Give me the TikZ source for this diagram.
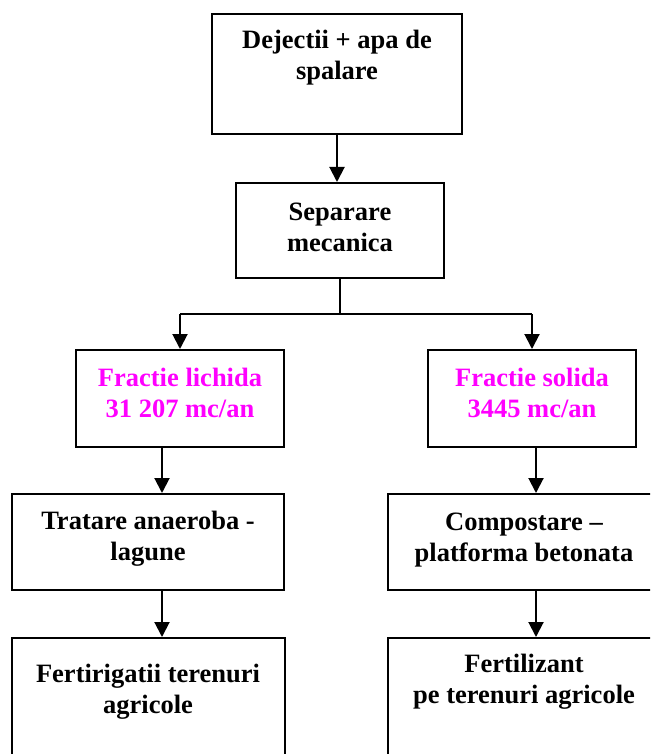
\documentclass[tikz,border=0pt]{standalone}
\usepackage{fontspec}
\setmainfont{Liberation Serif}
\usetikzlibrary{arrows.meta}
\definecolor{fraccol}{RGB}{255,0,255}
\begin{document}
\begin{tikzpicture}[x=0.5pt,y=-0.5pt,
  box/.style={draw,line width=1pt,rectangle,inner sep=0pt},
  lbl/.style={inner sep=0pt,anchor=base,align=center,
    font=\fontsize{13.25}{15.5}\selectfont\bfseries},
  frac/.style={lbl,text=fraccol},
  flow/.style={line width=1pt,-{Triangle[width=7.5pt,length=7.5pt]}},
  link/.style={line width=1pt}]
\useasboundingbox (0,0) rectangle (650,754);
\clip (0,0) rectangle (650,754);

% boxes
\node[box,minimum width=125pt,minimum height=60pt]   (b1) at (337,74) {};
\node[box,minimum width=104pt,minimum height=47.5pt] (b2) at (340,230.5) {};
\node[box,minimum width=104pt,minimum height=48.5pt] (b3) at (180,398.5) {};
\node[box,minimum width=104pt,minimum height=48.5pt] (b4) at (532,398.5) {};
\node[box,minimum width=136pt,minimum height=48pt]   (b5) at (148,542) {};
\node[box,minimum width=136pt,minimum height=48pt]   (b6) at (524,542) {};
\node[box,minimum width=136.5pt,minimum height=71pt] (b7) at (148.5,709) {};
\node[box,minimum width=136pt,minimum height=71pt]   (b8) at (524,709) {};

% labels (placed by the baseline of their last line)
\node[lbl]  (t1) at (337,80)  {Dejectii + apa de\\spalare};
\node[lbl]  (t2) at (340,251) {Separare\\mecanica};
\node[frac] (t3) at (180,417) {Fractie lichida\\31 207 mc/an};
\node[frac] (t4) at (532,417) {Fractie solida\\3445 mc/an};
\node[lbl]  (t5) at (148,560) {Tratare anaeroba -\\lagune};
\node[lbl]  (t6) at (524,561) {Compostare –\\platforma betonata};
\node[lbl]  (t7) at (148,713) {Fertirigatii terenuri\\agricole};
\node[lbl]  (t8) at (524,703) {Fertilizant\\pe terenuri agricole};

% connector guides
\coordinate (split) at (340,314);
\coordinate (left) at (162,0);
\coordinate (right) at (536,0);

% connectors
\draw[flow] (b1.south) -- (b1.south |- b2.north);
\draw[link] (b2.south) -- (split);
\draw[link] (split -| b3.north) -- (split -| b4.north);
\draw[flow] (split -| b3.north) -- (b3.north);
\draw[flow] (split -| b4.north) -- (b4.north);
\draw[flow] (b3.south -| left) -- (b5.north -| left);
\draw[flow] (b5.south -| left) -- (b7.north -| left);
\draw[flow] (b4.south -| right) -- (b6.north -| right);
\draw[flow] (b6.south -| right) -- (b8.north -| right);
\end{tikzpicture}
\end{document}
